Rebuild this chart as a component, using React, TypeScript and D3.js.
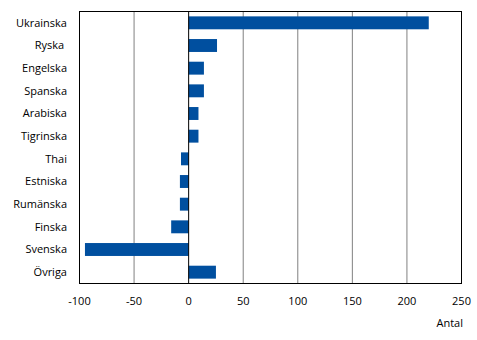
import React from "react";
import * as d3 from "d3";

const categories = ["Ukrainska", "Ryska ", "Engelska", "Spanska", "Arabiska", "Tigrinska", "Thai", "Estniska", "Rumänska", "Finska", "Svenska", "Övriga"];
const values = [220, 26, 14, 14, 9, 9, -7, -8, -8, -16, -95, 25];
const xTicks = [-100, -50, 0, 50, 100, 150, 200, 250];
const axisTitle = "Antal";

const W = 477, H = 340;
const left = 79.5, right = 461.5, top = 11.5, bottom = 283.5;
const font = "'Open Sans', 'DejaVu Sans', sans-serif";

export default function App() {
  const x = d3.scaleLinear().domain([-100, 250]).range([left, right]);
  const y = d3.scaleBand<string>().domain(categories).range([top, bottom]).paddingInner(0.43).paddingOuter(0.215);
  return (
    <svg width={W} height={H} style={{ position: "absolute", left: 0, top: 0 }}>
      <rect x={0} y={0} width={W} height={H} fill="#fff" />
      {xTicks.filter(t => t !== -100 && t !== 0 && t !== 250).map(t => (
        <line key={t} x1={x(t)} x2={x(t)} y1={top} y2={bottom} stroke="#808080" strokeWidth={1} />
      ))}
      {values.map((v, i) => (
        <rect key={i} x={Math.min(x(0), x(v))} width={Math.abs(x(v) - x(0))} y={y(categories[i])!} height={y.bandwidth()} fill="#004f9f" />
      ))}
      <line x1={x(0)} x2={x(0)} y1={top} y2={bottom} stroke="#000" strokeWidth={1} />
      <rect x={left} y={top} width={right - left} height={bottom - top} fill="none" stroke="#000" strokeWidth={1} />
      {categories.map(c => (
        <text key={c} x={67} y={y(c)! + y.bandwidth() / 2} dy="0.35em" textAnchor="end" fontFamily={font} fontSize={11} fill="#000" style={{ whiteSpace: "pre" }}>{c}</text>
      ))}
      {xTicks.map(t => (
        <text key={t} x={x(t)} y={305} textAnchor="middle" fontFamily={font} fontSize={11} fill="#000">{t}</text>
      ))}
      <text x={463} y={327} textAnchor="end" fontFamily={font} fontSize={11} fill="#000">{axisTitle}</text>
    </svg>
  );
}
